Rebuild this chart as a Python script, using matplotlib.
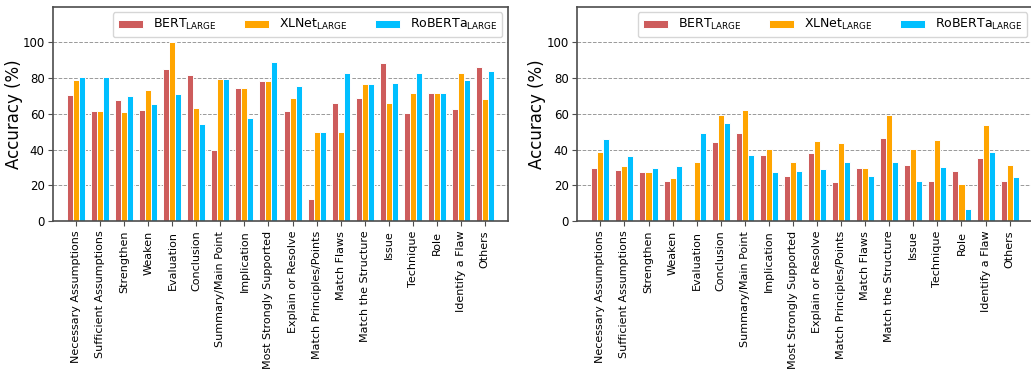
import matplotlib
matplotlib.use("Agg")
import matplotlib.pyplot as plt
import numpy as np

categories = ["Necessary Assumptions", "Sufficient Assumptions", "Strengthen", "Weaken",
              "Evaluation", "Conclusion", "Summary/Main Point", "Implication",
              "Most Strongly Supported", "Explain or Resolve", "Match Principles/Points",
              "Match Flaws", "Match the Structure", "Issue", "Technique", "Role",
              "Identify a Flaw", "Others"]

series_names = [r"BERT$_{\mathrm{LARGE}}$", r"XLNet$_{\mathrm{LARGE}}$", r"RoBERTa$_{\mathrm{LARGE}}$"]
colors = ["#CD5C5C", "#FFA500", "#00BFFF"]

bert_left = [70.8, 61.7, 67.8, 61.9, 85.2, 81.5, 39.6, 74.6, 78.5, 61.7, 12.3, 66.2, 68.8, 88.6, 60.6, 71.8, 62.6, 86.3]
xlnet_left = [79.2, 61.7, 61.3, 73.3, 100.0, 63.4, 79.6, 74.6, 78.5, 68.6, 49.7, 49.7, 76.6, 66.2, 71.8, 71.8, 83.0, 68.2]
roberta_left = [80.9, 80.5, 69.9, 65.6, 71.0, 54.2, 79.6, 57.9, 89.2, 75.7, 49.7, 83.0, 76.6, 77.4, 83.0, 71.8, 79.1, 83.9]

bert_right = [29.9, 28.4, 27.7, 22.4, 0.0, 44.5, 49.5, 37.0, 25.0, 38.1, 21.7, 29.9, 46.2, 31.2, 22.6, 28.0, 35.5, 22.2]
xlnet_right = [38.7, 31.0, 27.7, 23.9, 32.9, 59.4, 62.1, 40.2, 32.9, 45.0, 43.9, 29.9, 59.4, 40.2, 45.6, 20.7, 53.6, 31.2]
roberta_right = [45.8, 36.3, 29.9, 30.7, 49.5, 54.6, 37.0, 27.7, 27.9, 29.0, 32.9, 25.4, 32.9, 22.2, 30.1, 6.5, 38.7, 24.5]

yticks = [0, 20, 40, 60, 80, 100]

fig = plt.figure(figsize=(10.31, 3.70), dpi=100)
ax1 = fig.add_axes([53 / 1031, 1 - 221 / 370, (508 - 53) / 1031, (221 - 6.7) / 370])
ax2 = fig.add_axes([577 / 1031, 1 - 221 / 370, (1033 - 577) / 1031, (221 - 6.7) / 370])

x = np.arange(len(categories))
width = 0.25

for ax, data, lx in [(ax1, [bert_left, xlnet_left, roberta_left], -0.066),
                     (ax2, [bert_right, xlnet_right, roberta_right], -0.068)]:
    for i, (vals, name, c) in enumerate(zip(data, series_names, colors)):
        ax.bar(x + (i - 1) * width, vals, width, color=c, label=name,
               edgecolor="white", linewidth=0.7)
    ax.set_ylim(0, 120)
    ax.set_xlim(-0.97, len(categories) - 1 + 0.97)
    ax.set_yticks(yticks)
    ax.set_xticks(x)
    ax.set_xticklabels(categories, rotation=90, fontsize=8)
    ax.tick_params(axis="y", labelsize=8.5, length=3.5, color="0.3", pad=2.5)
    ax.tick_params(axis="x", length=3.5, color="0.3")
    ax.set_ylabel("Accuracy (%)", fontsize=12)
    ax.yaxis.set_label_coords(lx, 0.5)
    ax.yaxis.grid(True, linestyle="--", color="#999999", linewidth=0.7)
    ax.set_axisbelow(True)
    for s in ax.spines.values():
        s.set_color("0.3")
        s.set_linewidth(1.2)
    ax.legend(loc="upper right", ncol=3, fontsize=9, frameon=True,
              borderaxespad=0.45, columnspacing=2.2, handlelength=2.0)

fig.savefig("out.png", dpi=100)
